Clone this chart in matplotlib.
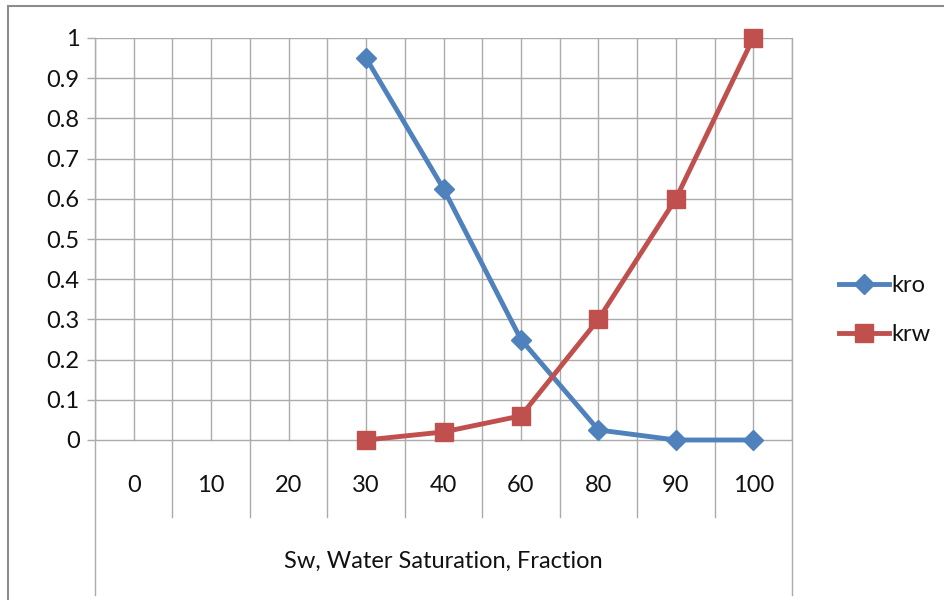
import numpy as np
import matplotlib.pyplot as plt
from matplotlib.patches import Rectangle

plt.rcParams['font.family'] = ['Lato', 'DejaVu Sans']

sw_labels = ["0", "10", "20", "30", "40", "60", "80", "90", "100"]
kro = [np.nan, np.nan, np.nan, 0.95, 0.625, 0.25, 0.025, 0.0, 0.0]
krw = [np.nan, np.nan, np.nan, 0.0, 0.02, 0.06, 0.30, 0.60, 1.0]
y_ticks = [0, 0.1, 0.2, 0.3, 0.4, 0.5, 0.6, 0.7, 0.8, 0.9, 1.0]
y_ticklabels = ["0", "0.1", "0.2", "0.3", "0.4", "0.5", "0.6", "0.7", "0.8", "0.9", "1"]
x_title = "Sw, Water Saturation, Fraction"

blue = "#4F81BD"
red = "#C0504D"
grid = "#ABABAB"
txt = "#111111"
fs = 17

fig = plt.figure(figsize=(9.44, 6.0), dpi=100)
# plot area (pixels): left 95, right 792, top 38 (y=1), zero at 440, bottom 595
ax = fig.add_axes([95 / 944, 5 / 600, (792 - 95) / 944, (595 - 38) / 600])
px = 402.0  # pixels per unit y
ybot = -(595 - 440) / px
ax.set_ylim(ybot, 1.0)
n = len(sw_labels)
ax.set_xlim(-0.5, n - 0.5)

# grid above the axis: category boundaries and centres
for k in range(2 * n + 1):
    ax.plot([-0.5 + 0.5 * k] * 2, [0, 1], color=grid, lw=1.0, zorder=1)
for yv in y_ticks:
    ax.axhline(yv, color=grid, lw=1.0, zorder=1)
# category divider lines below the axis
ydiv = -(517 - 440) / px
for k in range(1, n):
    ax.plot([k - 0.5] * 2, [ydiv, 0], color=grid, lw=1.0, zorder=1)

x = np.arange(n)
ax.plot(x, kro, color=blue, lw=3.5, marker="D", ms=10, mec=blue, label="kro",
        zorder=3, clip_on=False)
ax.plot(x, krw, color=red, lw=3.5, marker="s", ms=13, mec=red, label="krw",
        zorder=4, clip_on=False)

ax.set_yticks(y_ticks)
ax.set_yticklabels(y_ticklabels, fontsize=fs, color=txt)
ax.tick_params(axis="y", direction="out", length=6, width=1.0, color=grid, pad=5)
ax.set_xticks([])
for s in ["top", "bottom"]:
    ax.spines[s].set_visible(False)
for s in ["left", "right"]:
    ax.spines[s].set_color(grid)
    ax.spines[s].set_linewidth(1.0)

ylab = -(485 - 440) / px
for i, lab in enumerate(sw_labels):
    ax.text(i, ylab, lab, ha="center", va="center", fontsize=fs, color=txt)
ax.text((n - 1) / 2, -(561 - 440) / px, x_title, ha="center", va="center",
        fontsize=fs, color=txt)

leg = ax.legend(loc="center left", bbox_to_anchor=(818 / 944, 1 - 310 / 600),
                bbox_transform=fig.transFigure, frameon=False, fontsize=fs,
                handlelength=2.1, handletextpad=0.1, labelspacing=1.2)
for t in leg.get_texts():
    t.set_color(txt)

fig.patches.append(Rectangle((8 / 944, -0.1), 2.0, (600 - 6) / 600 + 0.1,
                             transform=fig.transFigure, fill=False,
                             edgecolor="#8c8c8c", lw=1.5))

fig.savefig("out.png", dpi=100)
